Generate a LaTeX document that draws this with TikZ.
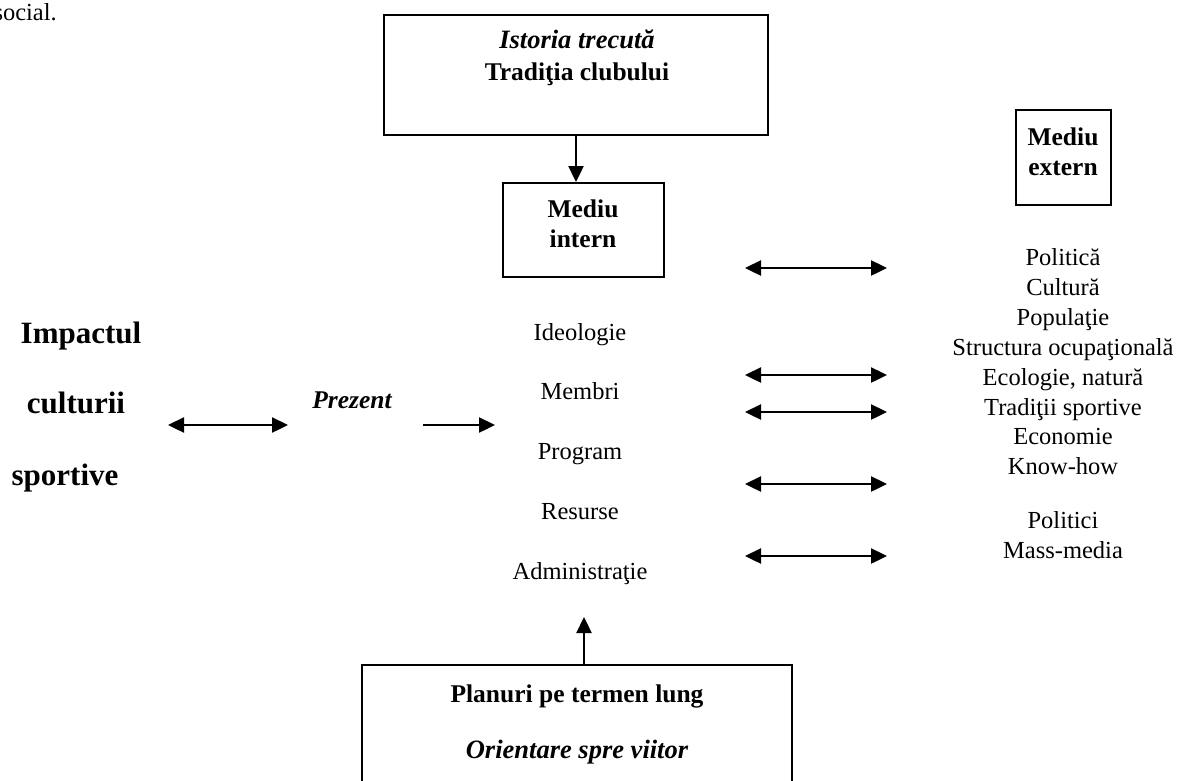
\documentclass[tikz,border=0pt]{standalone}
\usepackage{fontspec}
\setmainfont{Liberation Serif}
\usetikzlibrary{arrows.meta}
\begin{document}
\begin{tikzpicture}[x=1pt,y=-1pt,
  box/.style={draw,line width=2pt,inner sep=0pt},
  reg/.style={font=\fontsize{24.5}{29.7}\selectfont,anchor=base,inner sep=0pt},
  hd/.style={font=\fontsize{25.5}{30}\selectfont\bfseries,anchor=base,inner sep=0pt},
  hdi/.style={font=\fontsize{26.5}{30}\selectfont\bfseries\itshape,anchor=base,inner sep=0pt},
  big/.style={font=\fontsize{31}{36}\selectfont\bfseries,anchor=base,inner sep=0pt},
  con/.style={line width=2.4pt,-{Triangle[length=16pt,width=15pt]}},
  dcon/.style={line width=2.4pt,{Triangle[length=16pt,width=15pt]}-{Triangle[length=16pt,width=15pt]}},
]
\useasboundingbox (0,0) rectangle (1182,780);
\clip (0,0) rectangle (1182,780);

% stray text at top-left
\node[reg,anchor=base east] (soc) at (57,20) {social.};

% boxes
\node[box,minimum width=384pt,minimum height=120pt] (top) at (576,75) {};
\node[box,minimum width=161pt,minimum height=94pt] (intern) at (583.5,230) {};
\node[box,minimum width=95pt,minimum height=95pt] (extern) at (1063,157) {};
\draw[line width=2pt] (362,790) -- (362,665) -- (792,665) -- (792,790);
\coordinate (plan) at (584,665);

% box texts
\node[hdi] (ist) at (577,48) {Istoria trecută};
\node[hd] (trad) at (577,80) {Tradiţia clubului};
\node[hd] (m1) at (583,217) {Mediu};
\node[hd] (m2) at (583,247) {intern};
\node[hd] (e1) at (1063,145) {Mediu};
\node[hd] (e2) at (1063,175) {extern};
\node[hd] (pl) at (577,702) {Planuri pe termen lung};
\node[hdi] (or) at (577,758) {Orientare spre viitor};

% left
\node[big] (imp) at (81,343) {Impactul};
\node[big] (cul) at (76,413) {culturii};
\node[big] (spo) at (65,485) {sportive};
\node[font=\fontsize{25.5}{28}\selectfont\bfseries\itshape,anchor=base,inner sep=0pt] (prez) at (352,408) {Prezent};

% internal list
\node[reg] (ideo) at (580,340) {Ideologie};
\node[reg] (memb) at (580,399) {Membri};
\node[reg] (prog) at (580,459) {Program};
\node[reg] (res) at (580,519) {Resurse};
\node[reg] (adm) at (580,579) {Administraţie};

% external list
\node[reg] (r1) at (1063,265) {Politică};
\node[reg] (r2) at (1063,295) {Cultură};
\node[reg] (r3) at (1063,325) {Populaţie};
\node[reg] (r4) at (1063,355) {Structura ocupaţională};
\node[reg] (r5) at (1063,385) {Ecologie, natură};
\node[reg] (r6) at (1063,415) {Tradiţii sportive};
\node[reg] (r7) at (1063,444) {Economie};
\node[reg] (r8) at (1063,474) {Know-how};
\node[reg] (r9) at (1063,528) {Politici};
\node[reg] (r10) at (1063,558) {Mass-media};

% connector end points
\coordinate (la) at (168,425); \coordinate (lb) at (288,425);
\coordinate (pa) at (423,425); \coordinate (pb) at (495,425);
\coordinate (admb) at (584,617);
\foreach \i/\y in {1/268,2/375,3/412,4/484,5/556}{
  \coordinate (ra\i) at (745,\y); \coordinate (rb\i) at (887,\y);
}

% connectors
\draw[con] (top.south) -- (top.south |- intern.north);
\draw[con] (plan) -- (admb);
\draw[dcon] (la) -- (lb);
\draw[con] (pa) -- (pb);
\foreach \i in {1,...,5}{ \draw[dcon] (ra\i) -- (rb\i); }
\end{tikzpicture}
\end{document}
